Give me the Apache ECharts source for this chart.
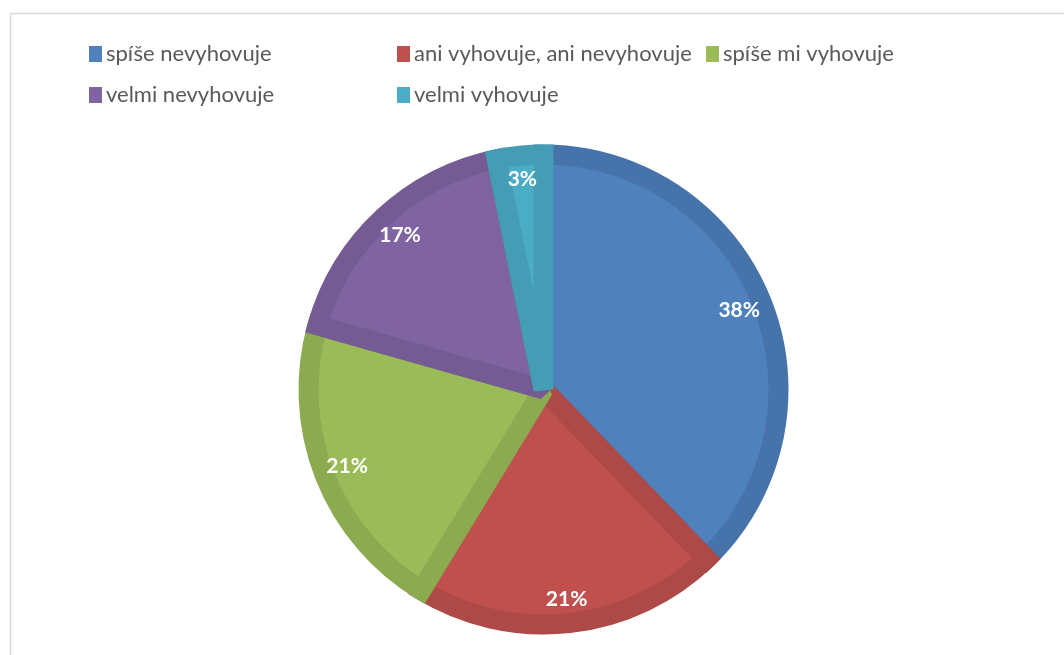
<!DOCTYPE html>
<html>
<head>
<meta charset="utf-8">
<script src="https://cdn.jsdelivr.net/npm/echarts@6/dist/echarts.min.js"></script>
<style>
html,body{margin:0;padding:0;background:#fff;}
#chart{width:1064px;height:655px;}
</style>
</head>
<body>
<div id="chart"></div>
<script>
const categories = ['spíše nevyhovuje', 'ani vyhovuje, ani nevyhovuje', 'spíše mi vyhovuje', 'velmi nevyhovuje', 'velmi vyhovuje'];
const values = [37.8, 20.9, 20.7, 17.4, 3.2];
const labels = ['38%', '21%', '21%', '17%', '3%'];
const fillColors = ['#4F81BD', '#C0504D', '#9BBB59', '#8064A2', '#4BACC6'];
const edgeColors = ['#4673AA', '#AD4946', '#8CAA50', '#745B93', '#449DB4'];

const center = [543.5, 389.5];
const FONT = 'Lato, "Open Sans", sans-serif';

const pieData = categories.map((c, i) => ({
  name: c,
  value: values[i],
  itemStyle: { color: fillColors[i], borderColor: edgeColors[i] }
}));
const labelData = categories.map((c, i) => ({
  name: c,
  value: values[i],
  label: { formatter: labels[i] }
}));

function legendFor(names, left) {
  return {
    orient: 'vertical',
    left: left,
    top: 43,
    padding: 0,
    itemGap: 19,
    itemWidth: 13,
    itemHeight: 16,
    icon: 'rect',
    selectedMode: false,
    itemStyle: { borderWidth: 0 },
    data: names,
    textStyle: { color: '#595959', fontSize: 22, fontFamily: FONT, padding: [0, 0, 0, -1] }
  };
}

const chart = echarts.init(document.getElementById('chart'), null, { renderer: 'canvas' });
chart.setOption({
  animation: false,
  backgroundColor: '#fff',
  color: fillColors,
  legend: [
    legendFor([categories[0], categories[3]], 89),
    legendFor([categories[1], categories[4]], 397),
    legendFor([categories[2]], 706)
  ],
  graphic: [{
    type: 'polyline',
    silent: true,
    shape: { points: [[10.5, 655], [10.5, 13.5], [1064, 13.5]] },
    style: { stroke: '#D9D9D9', lineWidth: 1.5, fill: null }
  }],
  series: [
    {
      type: 'pie',
      name: 'pie',
      center: center,
      radius: [0, 235],
      startAngle: 90,
      clockwise: true,
      silent: true,
      label: { show: false },
      labelLine: { show: false },
      itemStyle: { borderWidth: 20, borderJoin: 'miter', borderMiterLimit: 1.6 },
      emphasis: { disabled: true },
      data: pieData
    },
    {
      type: 'pie',
      name: 'labels',
      center: center,
      radius: [176, 240],
      startAngle: 90,
      clockwise: true,
      silent: true,
      legendHoverLink: false,
      itemStyle: { color: 'rgba(0,0,0,0)', borderWidth: 0 },
      labelLine: { show: false },
      label: {
        show: true,
        position: 'inside',
        color: '#fff',
        fontSize: 21,
        fontWeight: 'bold',
        fontFamily: FONT,
        textBorderWidth: 0
      },
      emphasis: { disabled: true },
      data: labelData
    }
  ]
});
</script>
</body>
</html>
